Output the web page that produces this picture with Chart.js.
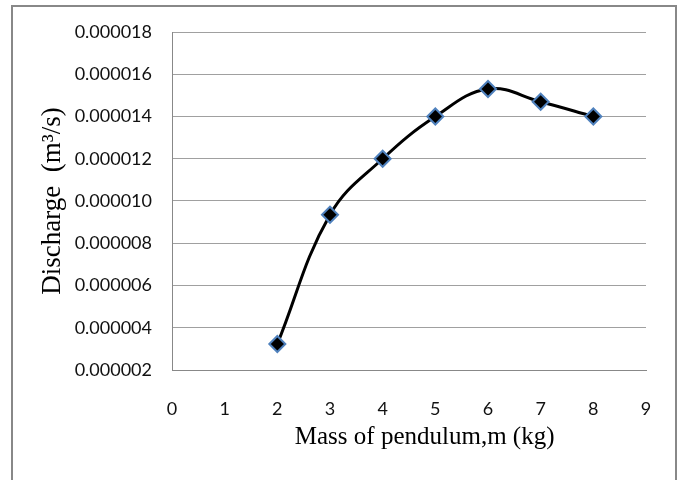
<!DOCTYPE html>
<html>
<head>
<meta charset="utf-8">
<script src="https://cdn.jsdelivr.net/npm/chart.js@4.4.1/dist/chart.umd.min.js"></script>
<style>
  body { margin: 0; background: #fff; }
  #wrap { position: relative; width: 681px; height: 480px; overflow: hidden; }
  #frame { position: absolute; left: 11px; top: 5px; width: 662px; height: 520px; border: 2px solid #888; }
  canvas { position: absolute; left: 0; top: 0; }
</style>
</head>
<body>
<div id="wrap">
  <div id="frame"></div>
  <canvas id="massChart" width="681" height="480"></canvas>
</div>
<script>
// mass of pendulum (kg) vs discharge (m3/s)
const massKg = [2, 3, 4, 5, 6, 7, 8];
const discharge = [0.00000323, 0.00000935, 0.0000120, 0.0000140, 0.0000153, 0.0000147, 0.0000140];
const yTicks = [0.000002, 0.000004, 0.000006, 0.000008, 0.000010, 0.000012, 0.000014, 0.000016, 0.000018];
const xTicks = [0, 1, 2, 3, 4, 5, 6, 7, 8, 9];

const points = massKg.map((m, i) => ({ x: m, y: discharge[i] }));

const ctx = document.getElementById('massChart').getContext('2d');
const massChart = new Chart(ctx, {
    type: 'line',
    data: {
        datasets: [{
            data: points,
            borderColor: '#000',
            borderWidth: 3,
            tension: 0.4,
            pointStyle: 'rectRot',
            pointRadius: 8,
            pointBackgroundColor: '#000',
            pointBorderColor: '#4F81BD',
            pointBorderWidth: 2
        }]
    },
    options: {
        responsive: false,
        animation: false,
        layout: { padding: { left: 0, top: 32, right: 35, bottom: 0 } },
        plugins: { legend: { display: false }, tooltip: { enabled: false } },
        scales: {
            x: {
                type: 'linear',
                min: 0,
                max: 9,
                afterBuildTicks: (scale) => { scale.ticks = xTicks.map(v => ({ value: v })); },
                afterFit: (scale) => { scale.height = 110; },
                grid: { display: false },
                border: { color: '#888', width: 1 },
                ticks: { padding: 20, color: '#111', font: { family: 'Lato', size: 18 } },
                title: {
                    display: true,
                    // leading spaces nudge the centred title to the right like the original
                    text: '     Mass of pendulum,m (kg)',
                    color: '#000',
                    font: { family: 'Liberation Serif', size: 25 },
                    padding: { top: 0, bottom: 28 }
                }
            },
            y: {
                min: 0.000002,
                max: 0.000018,
                afterBuildTicks: (scale) => { scale.ticks = yTicks.map(v => ({ value: v })); },
                afterFit: (scale) => { scale.width = 172; },
                grid: { color: '#a0a0a0', drawTicks: false },
                border: { color: '#888', width: 1 },
                ticks: {
                    padding: 20,
                    color: '#111',
                    font: { family: 'Lato', size: 18 },
                    callback: (v) => v.toFixed(6)
                },
                title: {
                    display: true,
                    text: 'Discharge  (m\u00b3/s)',
                    color: '#000',
                    font: { family: 'Liberation Serif', size: 27 },
                    padding: { top: 37, bottom: 0 }
                }
            }
        }
    }
});
</script>
</body>
</html>
